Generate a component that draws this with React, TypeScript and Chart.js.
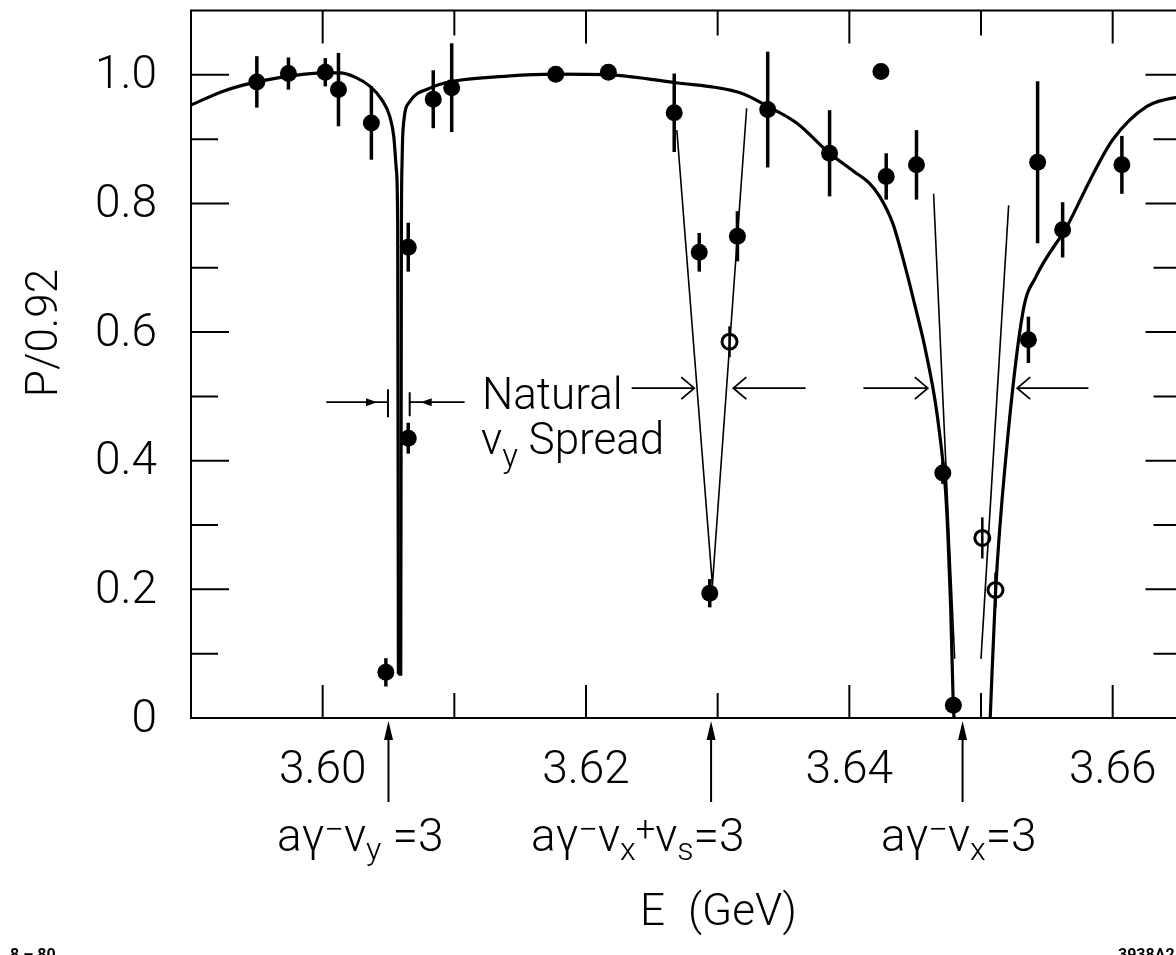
import React, { useEffect, useRef } from 'react';
import { Chart, registerables } from 'chart.js';

Chart.register(...registerables);

// ---------- data ----------
const energies = [
  3.5950, 3.5974, 3.6002, 3.6012, 3.6037, 3.6048, 3.6065, 3.6065, 3.6084, 3.6098,
  3.6177, 3.6217, 3.6267, 3.6286, 3.6294, 3.6315, 3.6338, 3.6385, 3.6424, 3.6428,
  3.6451, 3.6471, 3.6479, 3.6536, 3.6543, 3.6562, 3.6607,
];
const polarization = [
  0.989, 1.002, 1.004, 0.977, 0.925, 0.071, 0.732, 0.435, 0.962, 0.980,
  1.001, 1.004, 0.941, 0.724, 0.194, 0.749, 0.946, 0.878, 1.005, 0.842,
  0.860, 0.381, 0.020, 0.588, 0.864, 0.759, 0.860,
];
const polarizationErr = [
  0.040, 0.025, 0.022, 0.057, 0.057, 0.022, 0.038, 0.024, 0.045, 0.069,
  0, 0, 0.061, 0.030, 0.022, 0.039, 0.090, 0.067, 0, 0.036,
  0.054, 0.017, 0, 0.036, 0.126, 0.043, 0.045,
];

const openEnergies = [3.6309, 3.6501, 3.6511];
const openPolarization = [0.585, 0.280, 0.199];
const openErr = [0.024, 0.032, 0.027];

// fitted curve, in three pieces (left of the first dip, middle, right of the last dip)
const curveLeftE = [
  3.5900, 3.5925, 3.5950, 3.5975, 3.6000, 3.6013, 3.6025, 3.6036, 3.6045, 3.6051,
  3.6054, 3.6056, 3.60570, 3.60575,
];
const curveLeftP = [
  0.953, 0.975, 0.989, 0.998, 1.003, 1.003, 0.996, 0.982, 0.961, 0.935,
  0.904, 0.852, 0.759, 0.068,
];
const curveMidE = [
  3.60575, 3.60593, 3.60598, 3.60603, 3.6061, 3.6066, 3.6081, 3.6099, 3.6140, 3.6177,
  3.6217, 3.6267, 3.6317, 3.6338, 3.6360, 3.6385, 3.6404, 3.6415, 3.6423, 3.6433,
  3.6443, 3.6450, 3.6457, 3.6465, 3.6469, 3.6473, 3.6475, 3.6477, 3.6479, 3.64795,
];
const curveMidP = [
  0.068, 0.068, 0.759, 0.863, 0.914, 0.958, 0.979, 0.990, 0.998, 1.001,
  1.000, 0.988, 0.972, 0.951, 0.925, 0.878, 0.849, 0.832, 0.811, 0.769,
  0.697, 0.640, 0.580, 0.495, 0.435, 0.355, 0.277, 0.170, 0.017, 0.000,
];
const curveRightE = [
  3.6507, 3.6511, 3.6519, 3.6532, 3.6542, 3.6566, 3.6583, 3.6600, 3.6626, 3.6655,
];
const curveRightP = [
  0.000, 0.194, 0.408, 0.633, 0.687, 0.767, 0.837, 0.899, 0.951, 0.968,
];

const vLineE = [3.6269, 3.6296, 3.6322];
const vLineP = [0.914, 0.207, 0.948];
const lineAE = [3.6464, 3.6480];
const lineAP = [0.815, 0.092];
const lineBE = [3.6521, 3.6500];
const lineBP = [0.797, 0.092];

const xTicks = [3.60, 3.61, 3.62, 3.63, 3.64, 3.65, 3.66];
const xLabels = ['3.60', '3.62', '3.64', '3.66'];
const xLabelValues = [3.60, 3.62, 3.64, 3.66];
const yTicks = [0.1, 0.2, 0.3, 0.4, 0.5, 0.6, 0.7, 0.8, 0.9, 1.0];
const yLabels = ['0', '0.2', '0.4', '0.6', '0.8', '1.0'];
const yLabelValues = [0, 0.2, 0.4, 0.6, 0.8, 1.0];

const resonanceE = [3.6050, 3.6295, 3.6486];

const FONT = 'Roboto, "DejaVu Sans", sans-serif';

type Seg = { t: string; dy?: number; s?: number };
const resonanceLabels: { left: number; segs: Seg[] }[] = [
  { left: 277, segs: [{ t: 'aγ' }, { t: '−', dy: -0.22, s: 0.75 }, { t: 'ν' }, { t: 'y', dy: 0.2, s: 0.7 }, { t: ' =3' }] },
  { left: 531, segs: [{ t: 'aγ' }, { t: '−', dy: -0.22, s: 0.75 }, { t: 'ν' }, { t: 'x', dy: 0.2, s: 0.7 }, { t: '+', dy: -0.22, s: 0.75 }, { t: 'ν' }, { t: 's', dy: 0.2, s: 0.7 }, { t: '=3' }] },
  { left: 881, segs: [{ t: 'aγ' }, { t: '−', dy: -0.22, s: 0.75 }, { t: 'ν' }, { t: 'x', dy: 0.2, s: 0.7 }, { t: '=3' }] },
];

function pts(xs: number[], ys: number[]) {
  return xs.map((x, i) => ({ x, y: ys[i] }));
}

function drawRich(ctx: CanvasRenderingContext2D, segs: Seg[], x: number, y: number, size: number) {
  let cx = x;
  for (const sg of segs) {
    const fs = size * (sg.s ?? 1);
    ctx.font = `300 ${fs}px ${FONT}`;
    ctx.fillText(sg.t, cx, y + (sg.dy ?? 0) * size);
    cx += ctx.measureText(sg.t).width;
  }
}

function chevron(ctx: CanvasRenderingContext2D, x: number, y: number, dir: number) {
  ctx.beginPath();
  ctx.moveTo(x - dir * 13, y - 11);
  ctx.lineTo(x, y);
  ctx.lineTo(x - dir * 13, y + 11);
  ctx.stroke();
}

const framePlugin = {
  id: 'frame',
  afterDatasetsDraw(chart: any) {
    const ctx: CanvasRenderingContext2D = chart.ctx;
    const xs = chart.scales.x;
    const ys = chart.scales.y;
    const { left, right, top, bottom } = chart.chartArea;
    ctx.save();
    ctx.strokeStyle = '#000';
    ctx.fillStyle = '#000';
    ctx.lineCap = 'butt';

    // error bars
    ctx.lineWidth = 3.5;
    const bars = (E: number[], P: number[], D: number[]) => {
      E.forEach((e, i) => {
        if (!D[i]) return;
        const px = xs.getPixelForValue(e);
        ctx.beginPath();
        ctx.moveTo(px, ys.getPixelForValue(P[i] + D[i]));
        ctx.lineTo(px, ys.getPixelForValue(P[i] - D[i]));
        ctx.stroke();
      });
    };
    bars(energies, polarization, polarizationErr);
    ctx.lineWidth = 2.5;
    bars(openEnergies, openPolarization, openErr);

    // frame
    ctx.lineWidth = 2;
    ctx.strokeRect(left, top, right - left, bottom - top);

    // x ticks (inside, top and bottom)
    xTicks.forEach((v) => {
      const px = xs.getPixelForValue(v);
      const major = Math.round(v * 100) % 2 === 0;
      const len = major ? 33 : 25;
      ctx.beginPath();
      ctx.moveTo(px, bottom);
      ctx.lineTo(px, bottom - len);
      ctx.moveTo(px, top);
      ctx.lineTo(px, top + len);
      ctx.stroke();
    });
    // y ticks (inside, left and right)
    yTicks.forEach((v) => {
      const py = ys.getPixelForValue(v);
      const major = Math.round(v * 10) % 2 === 0;
      ctx.beginPath();
      ctx.moveTo(left, py);
      ctx.lineTo(left + (major ? 38 : 27), py);
      ctx.moveTo(right, py);
      ctx.lineTo(right - (major ? 33 : 25), py);
      ctx.stroke();
    });

    // tick labels
    ctx.font = `300 46px ${FONT}`;
    ctx.textBaseline = 'middle';
    ctx.textAlign = 'right';
    yLabelValues.forEach((v, i) => {
      ctx.fillText(yLabels[i], 157, ys.getPixelForValue(v) + 2);
    });
    ctx.textAlign = 'center';
    xLabelValues.forEach((v, i) => {
      ctx.fillText(xLabels[i], xs.getPixelForValue(v), 771);
    });

    // axis titles
    ctx.save();
    ctx.translate(46, 333);
    ctx.rotate(-Math.PI / 2);
    ctx.font = `300 44px ${FONT}`;
    ctx.textAlign = 'center';
    ctx.fillText('P/0.92', 0, 0);
    ctx.restore();
    ctx.font = `300 44px ${FONT}`;
    ctx.textAlign = 'left';
    ctx.fillText('E', 640, 914);
    ctx.fillText('(GeV)', 688, 914);

    // resonance arrows and labels
    ctx.lineWidth = 2;
    resonanceE.forEach((e) => {
      const px = xs.getPixelForValue(e);
      ctx.beginPath();
      ctx.moveTo(px, bottom + 8);
      ctx.lineTo(px, 802);
      ctx.stroke();
      ctx.beginPath();
      ctx.moveTo(px, bottom + 3);
      ctx.lineTo(px - 4.5, bottom + 22);
      ctx.lineTo(px + 4.5, bottom + 22);
      ctx.closePath();
      ctx.fill();
    });
    ctx.textBaseline = 'alphabetic';
    resonanceLabels.forEach((l) => drawRich(ctx, l.segs, l.left, 851, 46));

    // Natural nu_y spread annotation
    ctx.font = `300 44px ${FONT}`;
    ctx.fillText('Natural', 482, 409);
    drawRich(ctx, [{ t: 'ν' }, { t: 'y', dy: 0.3, s: 0.75 }, { t: ' Spread' }], 481, 454, 44);

    // spread arrows
    ctx.lineWidth = 1.8;
    const yA = ys.getPixelForValue(0.5128);
    const seg = (a: number, b: number, y: number) => {
      ctx.beginPath();
      ctx.moveTo(xs.getPixelForValue(a), y);
      ctx.lineTo(xs.getPixelForValue(b), y);
      ctx.stroke();
    };
    seg(3.62347, 3.62822, yA);
    chevron(ctx, xs.getPixelForValue(3.62822), yA, 1);
    seg(3.63119, 3.63668, yA);
    chevron(ctx, xs.getPixelForValue(3.63119), yA, -1);
    seg(3.64107, 3.64596, yA);
    chevron(ctx, xs.getPixelForValue(3.64596), yA, 1);
    seg(3.65275, 3.65816, yA);
    chevron(ctx, xs.getPixelForValue(3.65275), yA, -1);

    // first resonance: bracket arrows
    const yB = ys.getPixelForValue(0.491);
    const b1 = xs.getPixelForValue(3.60496);
    const b2 = xs.getPixelForValue(3.60661);
    seg(3.60028, 3.60496, yB);
    seg(3.60661, 3.61078, yB);
    ctx.lineWidth = 2;
    ctx.beginPath();
    ctx.moveTo(b1, yB - 13);
    ctx.lineTo(b1, yB + 15);
    ctx.moveTo(b2, yB - 10);
    ctx.lineTo(b2, yB + 14);
    ctx.stroke();
    ctx.beginPath();
    ctx.moveTo(b1 - 11, yB);
    ctx.lineTo(b1 - 22, yB - 4);
    ctx.lineTo(b1 - 22, yB + 4);
    ctx.closePath();
    ctx.fill();
    ctx.beginPath();
    ctx.moveTo(b2 + 11, yB);
    ctx.lineTo(b2 + 22, yB - 4);
    ctx.lineTo(b2 + 22, yB + 4);
    ctx.closePath();
    ctx.fill();

    // corner marks (cut by page edge)
    ctx.font = `bold 16px ${FONT}`;
    ctx.textAlign = 'left';
    ctx.fillText('8 – 80', 10, 960);
    ctx.fillText('3938A2', 1118, 960);

    ctx.restore();
  },
};

const curveStyle = {
  type: 'line',
  borderColor: '#000',
  borderWidth: 3.2,
  pointRadius: 0,
  cubicInterpolationMode: 'monotone',
  fill: false,
};
const thinStyle = {
  type: 'line',
  borderColor: '#000',
  borderWidth: 1.6,
  pointRadius: 0,
  tension: 0,
  fill: false,
};

export default function App() {
  const ref = useRef<HTMLCanvasElement | null>(null);

  useEffect(() => {
    if (!ref.current) return;
    const chart = new Chart(ref.current, {
      type: 'scatter',
      data: {
        datasets: [
          { ...curveStyle, data: pts(curveLeftE, curveLeftP) } as any,
          { ...curveStyle, data: pts(curveMidE, curveMidP) } as any,
          { ...curveStyle, data: pts(curveRightE, curveRightP) } as any,
          { ...thinStyle, data: pts(vLineE, vLineP) } as any,
          { ...thinStyle, data: pts(lineAE, lineAP) } as any,
          { ...thinStyle, data: pts(lineBE, lineBP) } as any,
          {
            type: 'scatter',
            data: pts(energies, polarization),
            backgroundColor: '#000',
            borderColor: '#000',
            borderWidth: 0,
            pointRadius: 8.5,
          },
          {
            type: 'scatter',
            data: pts(openEnergies, openPolarization),
            backgroundColor: '#fff',
            borderColor: '#000',
            borderWidth: 3,
            pointRadius: 7.5,
          },
        ],
      },
      options: {
        animation: false,
        responsive: false,
        devicePixelRatio: 1,
        layout: { padding: { left: 0, top: 10, right: 11.5, bottom: 0 } },
        plugins: { legend: { display: false }, tooltip: { enabled: false } },
        scales: {
          x: {
            type: 'linear',
            min: 3.59,
            max: 3.665,
            grid: { display: false },
            border: { display: false },
            ticks: { display: false },
            afterFit: (s: any) => {
              s.height = 237;
            },
          },
          y: {
            type: 'linear',
            min: 0,
            max: 1.1,
            grid: { display: false },
            border: { display: false },
            ticks: { display: false },
            afterFit: (s: any) => {
              s.width = 191;
            },
          },
        },
      },
      plugins: [framePlugin],
    });
    return () => chart.destroy();
  }, []);

  return (
    <div
      style={{
        position: 'fixed',
        left: 0,
        top: 0,
        width: 1176,
        height: 955,
        overflow: 'hidden',
        background: '#fff',
      }}
    >
      <canvas ref={ref} width={1190} height={955} style={{ display: 'block', width: 1190, height: 955 }} />
    </div>
  );
}
